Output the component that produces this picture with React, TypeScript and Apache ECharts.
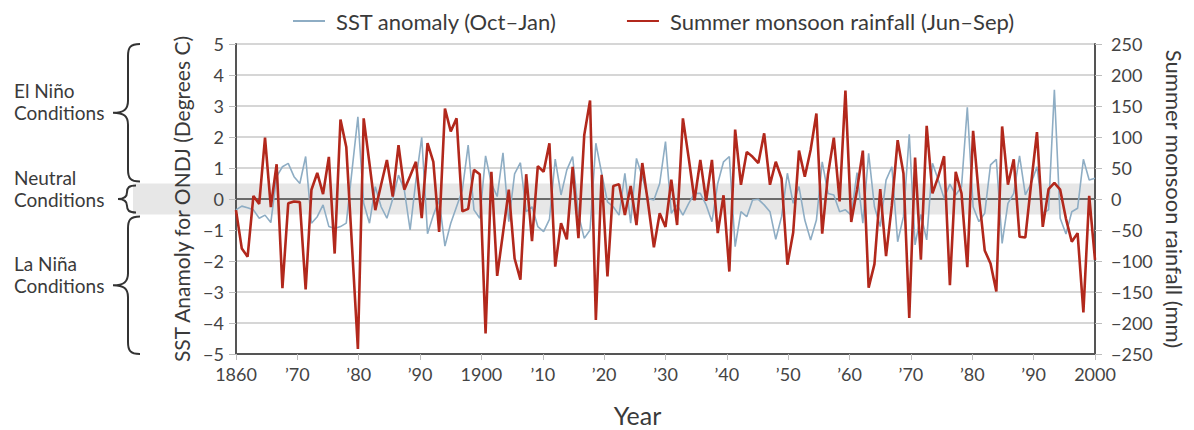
import React, { useEffect, useRef } from "react";
import * as echarts from "echarts";

const FONT = "Lato, 'Open Sans', sans-serif";

// Data points (annual), drawn evenly across the plot
const firstYear = 1856;
const sstAnomaly = [
  -0.35, -0.23, -0.28, -0.35, -0.62, -0.52, -0.76, 0.72, 1.04, 1.15,
  0.72, 0.5, 1.37, -0.78, -0.57, -0.19, -0.89, -0.95, -0.89, -0.78,
  0.94, 2.65, -0.14, -0.78, 0.4, -0.25, -0.62, 0.0, 0.77, 0.29,
  -1.0, 0.6, 1.99, -1.12, -0.52, -0.03, -1.52, -0.78, -0.25, 0.29,
  1.74, -0.35, -0.62, 1.39, 0.5, 0.08, 1.49, -0.73, 0.81, 1.17,
  -0.41, -0.25, -0.89, -1.05, -0.66, 1.29, 0.13, 0.94, 1.37, -0.5,
  -1.27, -1.0, 1.8, 0.83, -0.09, -0.25, -0.52, 0.83, -0.78, 1.31,
  0.72, 0.02, -0.03, 0.5, 1.85, -0.46, -0.19, -0.52, -0.14, 0.18,
  0.18, -0.19, -0.73, 0.5, 1.2, 1.37, -1.54, -0.41, -0.57, -0.03,
  -0.01, -0.19, -0.41, -1.3, -0.57, 0.83, -0.14, 0.4, -0.68, -1.32,
  -0.68, 1.2, 0.18, 0.13, -0.41, -0.35, -0.52, 0.85, -0.78, 1.47,
  -0.25, -0.89, 0.61, 1.04, -1.38, -0.57, 2.09, -1.48, -0.5, -1.32,
  1.15, 0.61, 0.02, 0.48, 0.13, 0.4, 2.96, -0.25, -0.73, -0.46,
  1.1, 1.28, -1.43, -0.14, 0.18, 1.39, 0.13, 0.5, 1.04, -0.46,
  -0.35, 3.52, -0.62, -1.13, -0.41, -0.3, 1.28, 0.61, 0.67,
];
const monsoonRainfall = [
  -18, -80, -93, 5, -8, 99, -13, 56, -144, -7,
  -4, -5, -146, 15, 42, 8, 68, -88, 128, 84,
  -78, -242, 130, 57, -18, 23, 63, 4, 87, 15,
  37, 60, -31, 90, 60, -53, 146, 109, 130, -20,
  -16, 47, 40, -217, 44, -124, -55, 15, -96, -130,
  40, -68, 53, 44, 90, -109, -39, -65, 52, -63,
  103, 159, -195, 39, -125, 21, 24, -26, 21, -42,
  58, -7, -78, -23, -45, 31, -42, 130, 66, -2,
  63, -3, 63, -55, 6, -117, 112, 23, 76, 68,
  58, 106, 23, 60, 33, -106, -54, 78, 36, 79,
  138, -56, 40, 99, -4, 175, -37, 15, 78, -143,
  -105, 16, -92, -10, 95, 41, -192, 67, -98, 118,
  9, 36, 69, -139, 44, 9, -110, 110, 5, -83,
  -104, -149, 117, 23, 64, -61, -62, 25, 108, -45,
  16, 26, 15, -32, -69, -55, -183, 5, -98,
];
const years = sstAnomaly.map((_, i) => String(firstYear + i));

const xTickLabels = ["1860", "\u201970", "\u201980", "\u201990", "1900", "\u201910", "\u201920", "\u201930", "\u201940", "\u201950", "\u201960", "\u201970", "\u201980", "\u201990", "2000"];
const seriesNames = ["SST anomaly (Oct\u2013Jan)", "Summer monsoon rainfall (Jun\u2013Sep)"];
const conditionLabels = [
  ["El Ni\u00f1o", "Conditions"],
  ["Neutral", "Conditions"],
  ["La Ni\u00f1a", "Conditions"],
];

const BLUE = "#8eadc4";
const RED = "#b2281c";
const TXT = "#3a3a3a";

const Brace = echarts.graphic.extendShape({
  shape: { x: 0, y1: 0, y2: 100, w: 27, body: 12 },
  buildPath(ctx: any, s: any) {
    const { x, y1, y2, w, body } = s;
    const mid = (y1 + y2) / 2;
    const bx = x - body;
    const tip = x - w;
    const r = Math.min(12, (y2 - y1) / 4);
    ctx.moveTo(x, y1);
    ctx.bezierCurveTo(bx + 2, y1, bx, y1 + r * 0.3, bx, y1 + r);
    ctx.lineTo(bx, mid - r);
    ctx.bezierCurveTo(bx, mid - r * 0.3, bx - 4, mid, tip, mid);
    ctx.bezierCurveTo(bx - 4, mid, bx, mid + r * 0.3, bx, mid + r);
    ctx.lineTo(bx, y2 - r);
    ctx.bezierCurveTo(bx, y2 - r * 0.3, bx + 2, y2, x, y2);
  },
});
echarts.graphic.registerShape("brace", Brace);

const fmtNum = (v: number) => (v < 0 ? "\u2212" + Math.abs(v) : String(v));

export default function App() {
  const ref = useRef<HTMLDivElement>(null);
  useEffect(() => {
    if (!ref.current) return;
    document.body.style.margin = "0";
    document.body.style.overflow = "hidden";
    const chart = echarts.init(ref.current, null, { renderer: "svg" });
    const splitColors = Array.from({ length: 11 }, (_, i) => (i === 5 ? "#6b6b6b" : "#d6d6d6"));
    const option: any = {
      animation: false,
      textStyle: { fontFamily: FONT },
      legend: {
        left: 288,
        top: 5,
        itemWidth: 32,
        itemHeight: 14,
        itemGap: 70,
        icon: "path://M0,6 L32,6 L32,8 L0,8 Z",
        data: seriesNames,
        textStyle: { fontSize: 22, color: TXT, fontFamily: FONT, padding: [0, 0, 0, 6] },
      },
      grid: { left: 236, right: 99, top: 44, bottom: 76 },
      xAxis: [
        { type: "category", data: years, boundaryGap: false, show: false },
        {
          type: "value",
          min: 1860,
          max: 2000,
          interval: 10,
          position: "bottom",
          axisLine: { show: true, onZero: false, lineStyle: { color: "#555", width: 2 } },
          axisTick: { show: true, length: 6, lineStyle: { color: "#bdbdbd", width: 1 } },
          axisLabel: {
            fontSize: 18,
            color: "#444",
            margin: 11,
            fontFamily: FONT,
            formatter: (v: number) => xTickLabels[Math.round((v - 1860) / 10)],
          },
          splitLine: { show: false },
        },
      ],
      yAxis: [
        {
          type: "value",
          min: -5,
          max: 5,
          interval: 1,
          name: "SST Anamoly for ONDJ (Degrees C)",
          nameLocation: "middle",
          nameGap: 42,
          nameTextStyle: { fontSize: 21, color: TXT, fontFamily: FONT },
          axisLine: { show: true, onZero: false, lineStyle: { color: "#555", width: 2 } },
          axisTick: { show: true, length: 7, lineStyle: { color: "#bdbdbd", width: 1 } },
          axisLabel: { fontSize: 18, color: "#444", margin: 12, fontFamily: FONT, formatter: fmtNum },
          splitLine: { show: true, lineStyle: { color: splitColors, width: 2 } },
        },
        {
          type: "value",
          min: -250,
          max: 250,
          interval: 50,
          position: "right",
          name: "Summer monsoon rainfall (mm)",
          nameLocation: "middle",
          nameRotate: -90,
          nameGap: 68,
          nameTextStyle: { fontSize: 22, color: TXT, fontFamily: FONT },
          axisLine: { show: true, onZero: false, lineStyle: { color: "#555", width: 2 } },
          axisTick: { show: true, length: 7, lineStyle: { color: "#bdbdbd", width: 1 } },
          axisLabel: { fontSize: 18, color: "#444", margin: 16, fontFamily: FONT, formatter: fmtNum },
          splitLine: { show: false },
        },
      ],
      series: [
        {
          name: seriesNames[0],
          type: "line",
          xAxisIndex: 0,
          yAxisIndex: 0,
          data: sstAnomaly,
          symbol: "none",
          lineStyle: { color: BLUE, width: 1.6 },
          itemStyle: { color: BLUE },
          z: 2,
        },
        {
          name: seriesNames[1],
          type: "line",
          xAxisIndex: 0,
          yAxisIndex: 1,
          data: monsoonRainfall,
          symbol: "none",
          lineStyle: { color: RED, width: 2.6 },
          itemStyle: { color: RED },
          z: 3,
        },
      ],
    };
    chart.setOption(option);

    const py = (v: number) => chart.convertToPixel({ yAxisIndex: 0 }, v) as number;
    const xLeft = chart.convertToPixel({ xAxisIndex: 1 }, 1860) as number;
    const xRight = chart.convertToPixel({ xAxisIndex: 1 }, 2000) as number;
    const bandTop = py(0.5);
    const bandBot = py(-0.5);
    const ranges = [
      [py(5), bandTop - 2],
      [bandTop + 2, bandBot - 2],
      [bandBot + 2, py(-5)],
    ];
    const braceDims = [
      { x: 140, w: 27, body: 12 },
      { x: 136, w: 18, body: 9 },
      { x: 140, w: 27, body: 12 },
    ];
    const graphic: any[] = [
      {
        type: "rect",
        z: -1,
        silent: true,
        shape: { x: 133, y: bandTop, width: xRight - 133, height: bandBot - bandTop },
        style: { fill: "#e7e7e7" },
      },
      {
        type: "text",
        z: 5,
        style: {
          text: "Year",
          x: (xLeft + xRight) / 2 - 28,
          y: 415,
          align: "center",
          verticalAlign: "middle",
          fontSize: 25,
          fontFamily: FONT,
          fill: TXT,
        },
      },
    ];
    ranges.forEach(([a, b], i) => {
      const mid = (a + b) / 2;
      graphic.push({
        type: "brace",
        z: 5,
        silent: true,
        shape: { x: braceDims[i].x, y1: a, y2: b, w: braceDims[i].w, body: braceDims[i].body },
        style: { stroke: "#333", lineWidth: 2, fill: "none" },
      });
      graphic.push({
        type: "text",
        z: 5,
        style: {
          text: conditionLabels[i].join("\n"),
          x: 14,
          y: mid - 11,
          align: "left",
          verticalAlign: "middle",
          fontSize: 19,
          lineHeight: 22,
          fontFamily: FONT,
          fill: TXT,
        },
      });
    });
    chart.setOption({ graphic });

    return () => chart.dispose();
  }, []);
  return (
    <div
      ref={ref}
      style={{ position: "absolute", left: 0, top: 0, width: 1194, height: 430 }}
    />
  );
}
